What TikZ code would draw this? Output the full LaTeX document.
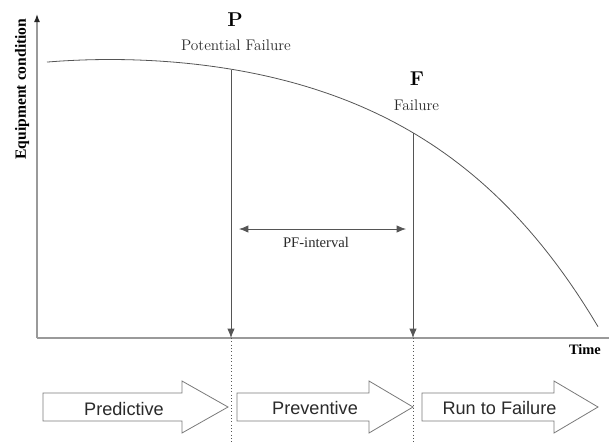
\documentclass[tikz,border=0pt]{standalone}
\usepackage{fontspec}
\newfontfamily\tms{Liberation Serif}
\newfontfamily\arl{Liberation Sans}
\usetikzlibrary{arrows.meta}
\definecolor{axisgray}{HTML}{9A9A9A}
\definecolor{linegray}{HTML}{555555}
\definecolor{boxgray}{HTML}{7A7A7A}
\definecolor{txtgray}{HTML}{2A2A2A}
\begin{document}
\begin{tikzpicture}[x=0.75pt,y=-0.75pt,
  axisline/.style={draw=axisgray,line width=1.1pt},
  marker/.style={draw=linegray,line width=0.6pt,-{Latex[length=7pt,width=5.5pt]}},
  guide/.style={draw=linegray,line width=0.5pt,dotted},
  blockarrow/.style={draw=boxgray,fill=white,line width=0.6pt},
  lmlabel/.style={inner sep=0pt,anchor=base,text=txtgray,font=\fontsize{11.5}{13}\selectfont},
  lmbig/.style={inner sep=0pt,anchor=base,text=black,font=\fontsize{15}{17}\selectfont\bfseries},
  blocktext/.style={inner sep=0pt,anchor=base,text=txtgray,font=\arl\fontsize{13.6}{15}\selectfont}]
\useasboundingbox (0,0) rectangle (609,444);
% axes
\coordinate (O) at (37,338);
\coordinate (Ytop) at (37,14);
\coordinate (Xend) at (609,338);
\draw[axisline] (O) -- (Xend);
\draw[axisline,-{Latex[length=6pt,width=4.5pt,color=black!85]}] (O) -- (Ytop);
\node[rotate=90,inner sep=0pt,font=\tms\fontsize{11.7}{13}\selectfont\bfseries] (ylab) at (22,89) {Equipment condition};
\node[inner sep=0pt,anchor=base,font=\tms\fontsize{10.8}{12}\selectfont\bfseries] (tlab) at (585,354) {Time};
% curve
\draw[linegray,line width=0.6pt] plot[domain=47:598,samples=80,variable=\t]
  ({\t},{59.5+42.2*(0.5*(exp(0.0055*(\t-110))+exp(-0.0055*(\t-110)))-1)});
% P and F
\coordinate (Pc) at (231,70);
\coordinate (Pb) at (231,338);
\coordinate (Pd) at (231,444);
\coordinate (Fc) at (413,133);
\coordinate (Fb) at (413,338);
\coordinate (Fd) at (413,444);
\draw[marker] (Pc) -- (Pb);
\draw[marker] (Fc) -- (Fb);
\draw[guide] (Pb) -- (Pd);
\draw[guide] (Fb) -- (Fd);
\node[lmbig] (Plab) at (235,26) {P};
\node[lmlabel] (Ptxt) at (236,50) {Potential Failure};
\node[lmbig] (Flab) at (417,85) {F};
\node[lmlabel] (Ftxt) at (416.5,110) {Failure};
% PF interval
\coordinate (PFl) at (239,229);
\coordinate (PFr) at (406,229);
\draw[draw=linegray,line width=0.6pt,{Latex[length=7pt,width=5.5pt]}-{Latex[length=7pt,width=5.5pt]}] (PFl) -- (PFr);
\node[inner sep=0pt,anchor=base,text=txtgray,font=\tms\fontsize{11}{12}\selectfont] (pfint) at (316,247) {PF-interval};
% block arrows
\draw[blockarrow] (43,393) -- (182,393) -- (182,381) -- (228,407) -- (182,433) -- (182,421) -- (43,421) -- cycle;
\draw[blockarrow] (237,393) -- (369,393) -- (369,381) -- (413,407) -- (369,433) -- (369,421) -- (237,421) -- cycle;
\draw[blockarrow] (422,393) -- (554,393) -- (554,381) -- (598,407) -- (554,433) -- (554,421) -- (422,421) -- cycle;
\node[blocktext] (pred) at (124,415) {Predictive};
\node[blocktext] (prev) at (315,414) {Preventive};
\node[blocktext] (rtf) at (499.5,414) {Run to Failure};
\end{tikzpicture}
\end{document}
